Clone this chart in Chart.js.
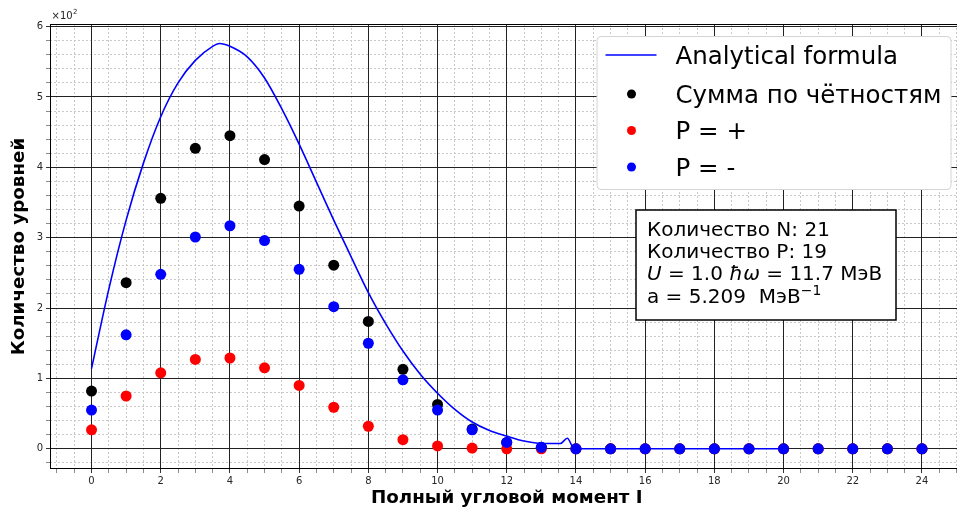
<!DOCTYPE html>
<html lang="ru">
<head>
<meta charset="UTF-8">
<title>Количество уровней</title>
<script src="https://cdn.jsdelivr.net/npm/chart.js"></script>
<style>
    body { margin: 0; background: #fff; overflow: hidden; }
    #wrap { width: 957px; height: 511px; overflow: hidden; }
</style>
</head>
<body>
<div id="wrap"><canvas id="levelsChart" width="969" height="511"></canvas></div>
<script>
    // полный угловой момент I
    const spins = [0, 1, 2, 3, 4, 5, 6, 7, 8, 9, 10, 11, 12, 13, 14, 15, 16, 17, 18, 19, 20, 21, 22, 23, 24];
    // число уровней (штук), по оси Y подписано в сотнях
    const sumLevels   = [82, 236, 356, 427, 445, 411, 345, 261, 181, 113, 63, 28, 9, 2, 0, 0, 0, 0, 0, 0, 0, 0, 0, 0, 0];
    const plusLevels  = [27, 75, 108, 127, 129, 115, 90, 59, 32, 13, 4, 1, 0, 0, 0, 0, 0, 0, 0, 0, 0, 0, 0, 0, 0];
    const minusLevels = [55, 162, 248, 301, 317, 296, 255, 202, 150, 98, 55, 27, 9, 2, 0, 0, 0, 0, 0, 0, 0, 0, 0, 0, 0];

    // аналитическая формула
    const curveSpins  = [0, 0.5, 1, 1.5, 2, 2.5, 3, 3.5, 3.7, 4, 4.5, 5, 5.5, 6, 6.5, 7, 7.5, 8, 8.5, 9, 9.5, 10, 10.5, 11, 11.5, 12, 12.5, 13, 13.55, 13.75, 13.95, 20];
    const curveLevels = [114, 227, 325, 406, 472, 520, 552, 572, 576, 572, 557, 527, 483, 433, 379, 325, 273, 222, 178, 139, 106, 79, 56, 38, 26, 18, 11, 7.5, 7.5, 15, 0, 0];

    const xTickLabels = [0, 2, 4, 6, 8, 10, 12, 14, 16, 18, 20, 22, 24];
    const yTickLabels = [0, 1, 2, 3, 4, 5, 6];
    const yScaleFactor = 100;

    const FONT = "'DejaVu Sans', sans-serif";

    // шаги сетки
    const xMinor = [];
    for (let v = -1; v <= 25; v += 0.5) xMinor.push(v);
    const yMinor = [];
    for (let v = -20; v <= 600; v += 20) yMinor.push(v);

    const toPoints = (xs, ys) => xs.map((x, i) => ({ x: x, y: ys[i] }));
    const useTicks = values => axis => { axis.ticks = values.map(v => ({ value: v })); };
    const isXMajor = v => xTickLabels.includes(v);
    const isYMajor = v => yTickLabels.includes(v / yScaleFactor);

    const overlay = {
        id: 'overlay',
        afterDatasetsDraw(chart) {
            const { ctx, chartArea: a } = chart;
            ctx.save();
            ctx.strokeStyle = '#000';
            ctx.lineWidth = 1;
            ctx.strokeRect(a.left + 0.5, a.top + 0.5, a.right - a.left - 1, a.bottom - a.top - 1);
            ctx.restore();
        },
        afterDraw(chart) {
            const { ctx, chartArea: a } = chart;
            ctx.save();

            // множитель ×10²
            ctx.fillStyle = '#262626';
            ctx.font = '10px ' + FONT;
            ctx.textBaseline = 'alphabetic';
            ctx.fillText('×10', a.left + 1.5, a.top - 5.5);
            const mw = ctx.measureText('×10').width;
            ctx.font = '7px ' + FONT;
            ctx.fillText('2', a.left + 2 + mw, a.top - 10);

            // легенда
            const lgW = 354, lgH = 153;
            const lgL = a.right - 13 - lgW, lgT = a.top + 12;
            ctx.beginPath();
            ctx.roundRect(lgL + 0.5, lgT + 0.5, lgW, lgH, 4);
            ctx.fillStyle = '#fff';
            ctx.fill();
            ctx.strokeStyle = '#d4d4d4';
            ctx.lineWidth = 1;
            ctx.stroke();
            const rows = [19, 58, 94.5, 131];
            ctx.font = '24.5px ' + FONT;
            chart.data.datasets.forEach((ds, i) => {
                const y = lgT + rows[i];
                if (ds.showLine) {
                    ctx.beginPath();
                    ctx.moveTo(lgL + 9, y);
                    ctx.lineTo(lgL + 60, y);
                    ctx.strokeStyle = ds.borderColor;
                    ctx.lineWidth = ds.borderWidth;
                    ctx.stroke();
                } else {
                    ctx.beginPath();
                    ctx.arc(lgL + 35, y, 4.5, 0, Math.PI * 2);
                    ctx.fillStyle = ds.backgroundColor;
                    ctx.fill();
                }
                ctx.fillStyle = '#000';
                ctx.fillText(ds.label, lgL + 79, y + 8.8);
            });

            // параметры расчёта
            const bL = a.left + 586, bT = a.top + 186, bW = 260, bH = 110;
            ctx.fillStyle = '#fff';
            ctx.fillRect(bL, bT, bW, bH);
            ctx.strokeStyle = '#000';
            ctx.lineWidth = 1.5;
            ctx.strokeRect(bL, bT, bW, bH);

            ctx.fillStyle = '#000';
            const tx = bL + 11;
            const line = (parts, y) => {
                let x = tx;
                parts.forEach(p => {
                    ctx.font = (p.style || '') + ' ' + (p.size || 20) + 'px ' + FONT;
                    ctx.fillText(p.text, x, y - (p.rise || 0));
                    x += ctx.measureText(p.text).width;
                });
            };
            line([{ text: 'Количество N: 21' }], bT + 26);
            line([{ text: 'Количество P: 19' }], bT + 47.5);
            line([
                { text: 'U', style: 'italic' },
                { text: ' = 1.0 ' },
                { text: 'ħω', style: 'italic' },
                { text: ' = 11.7 МэВ' }
            ], bT + 70);
            line([
                { text: 'a = 5.209  МэВ' },
                { text: '−1', size: 14, rise: 8 }
            ], bT + 93);

            ctx.restore();
        }
    };

    const minorGridColor = isMajor => c => isMajor(c.tick.value) ? 'rgba(0,0,0,0)' : '#c8c8c8';

    const ctx = document.getElementById('levelsChart').getContext('2d');
    new Chart(ctx, {
        type: 'scatter',
        data: {
            datasets: [
                {
                    label: 'Analytical formula',
                    data: toPoints(curveSpins, curveLevels),
                    showLine: true,
                    borderColor: '#0000ff',
                    borderWidth: 1.6,
                    pointRadius: 0,
                    cubicInterpolationMode: 'monotone',
                    order: 0
                },
                {
                    label: 'Сумма по чётностям',
                    data: toPoints(spins, sumLevels),
                    backgroundColor: '#000000',
                    pointRadius: 5.5,
                    pointBorderWidth: 0,
                    order: 3
                },
                {
                    label: 'P = +',
                    data: toPoints(spins, plusLevels),
                    backgroundColor: '#ff0000',
                    pointRadius: 5.5,
                    pointBorderWidth: 0,
                    order: 2
                },
                {
                    label: 'P = -',
                    data: toPoints(spins, minusLevels),
                    backgroundColor: '#0000ff',
                    pointRadius: 5.5,
                    pointBorderWidth: 0,
                    order: 1
                }
            ]
        },
        options: {
            responsive: false,
            animation: false,
            layout: { padding: { top: 24, right: 2, bottom: 0, left: 0 } },
            plugins: {
                legend: { display: false },
                tooltip: { enabled: false }
            },
            scales: {
                x: {
                    type: 'linear',
                    min: -1.2,
                    max: 25.2,
                    afterBuildTicks: useTicks(xMinor),
                    afterFit: axis => { axis.height = 42; },
                    border: { display: false },
                    grid: {
                        color: c => isXMajor(c.tick.value) ? '#222' : 'rgba(0,0,0,0)',
                        tickColor: c => isXMajor(c.tick.value) ? '#333' : '#888',
                        tickLength: 4,
                        lineWidth: 1
                    },
                    ticks: {
                        autoSkip: false,
                        maxRotation: 0,
                        padding: 2,
                        color: '#262626',
                        font: { family: FONT, size: 10 },
                        callback: v => isXMajor(v) ? String(v) : ''
                    },
                    title: {
                        display: true,
                        text: 'Полный угловой момент I',
                        color: '#000',
                        font: { family: FONT, size: 18.3, weight: 'bold' },
                        padding: { top: 0, bottom: 2 }
                    }
                },
                y: {
                    type: 'linear',
                    min: -28.75,
                    max: 603.75,
                    afterBuildTicks: useTicks(yMinor),
                    afterFit: axis => { axis.width = 50; },
                    border: { display: false },
                    grid: {
                        color: c => isYMajor(c.tick.value) ? '#222' : 'rgba(0,0,0,0)',
                        tickColor: c => isYMajor(c.tick.value) ? '#333' : '#888',
                        tickLength: 4,
                        lineWidth: 1
                    },
                    ticks: {
                        autoSkip: false,
                        padding: 3,
                        color: '#262626',
                        font: { family: FONT, size: 10 },
                        callback: v => isYMajor(v) ? String(v / yScaleFactor) : ''
                    },
                    title: {
                        display: true,
                        text: 'Количество уровней',
                        color: '#000',
                        font: { family: FONT, size: 18.3, weight: 'bold' },
                        padding: { top: 8, bottom: 0 }
                    }
                },
                // мелкая сетка
                xMinorGrid: {
                    type: 'linear',
                    position: 'bottom',
                    min: -1.2,
                    max: 25.2,
                    afterBuildTicks: useTicks(xMinor),
                    afterFit: axis => { axis.height = 0; },
                    border: { display: false, dash: [2, 2] },
                    grid: { z: -2, color: minorGridColor(isXMajor), drawTicks: false, lineWidth: 1 },
                    ticks: { display: false }
                },
                yMinorGrid: {
                    type: 'linear',
                    position: 'left',
                    min: -28.75,
                    max: 603.75,
                    afterBuildTicks: useTicks(yMinor),
                    afterFit: axis => { axis.width = 0; },
                    border: { display: false, dash: [2, 2] },
                    grid: { z: -2, color: minorGridColor(isYMajor), drawTicks: false, lineWidth: 1 },
                    ticks: { display: false }
                }
            }
        },
        plugins: [overlay]
    });
</script>
</body>
</html>
